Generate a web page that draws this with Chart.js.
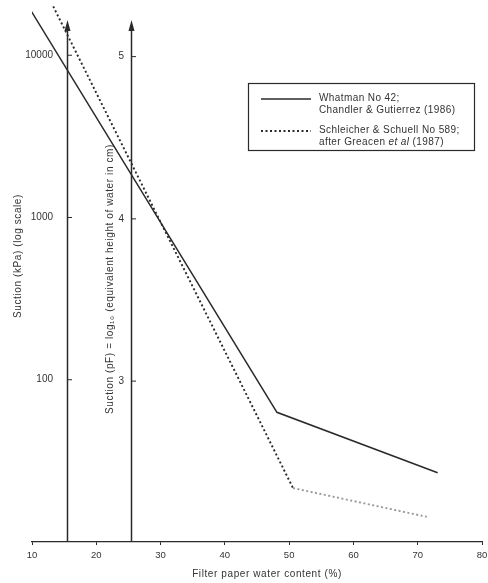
<!DOCTYPE html>
<html>
<head>
<meta charset="utf-8">
<script src="https://cdn.jsdelivr.net/npm/chart.js@4/dist/chart.umd.min.js"></script>
<style>
  html, body { margin: 0; padding: 0; background: #fff; }
  #wrap { width: 488px; height: 583px; }
</style>
</head>
<body>
<div id="wrap"><canvas id="paperChart" width="488" height="583"></canvas></div>
<script>
// filter paper calibration curves
const xTicks = [10, 20, 30, 40, 50, 60, 70, 80];
const kpaTicks = [100, 1000, 10000];
const pfTicks = [3, 4, 5];

const whatmanW = [9.5, 48.1, 73.1];
const whatmanS = [19800, 63, 26.7];

const s589W = [13.3, 50.6, 71.4];
const s589S = [20000, 21.5, 14.3];

const labels = [
    ['Whatman No 42;', 'Chandler & Gutierrez (1986)'],
    ['Schleicher & Schuell No 589;', 'after Greacen et al (1987)']
];

const FONT = '"Liberation Sans", Arial, sans-serif';
const INK = '#2a2a2a';
const TXT = '#333';

function pts(xs, ys) {
    return xs.map((x, i) => ({ x: x, y: ys[i] }));
}

// pF = log10(cm of water), 1 kPa = 10.197 cm
function pfToKpa(pf) {
    return Math.pow(10, pf) / 10.197;
}

const axesPlugin = {
    id: 'axesPlugin',
    afterDraw(chart) {
        const ctx = chart.ctx;
        const xs = chart.scales.x;
        const ys = chart.scales.y;
        const area = chart.chartArea;
        const bottom = area.bottom;
        const tipY = area.top + 15;

        ctx.save();
        ctx.strokeStyle = INK;
        ctx.fillStyle = INK;

        // two vertical axes with arrows
        [15, 25].forEach(v => {
            const px = Math.round(xs.getPixelForValue(v)) + 3.5;
            ctx.lineWidth = 1.5;
            ctx.beginPath();
            ctx.moveTo(px, bottom);
            ctx.lineTo(px, tipY + 8);
            ctx.stroke();
            ctx.beginPath();
            ctx.moveTo(px, tipY);
            ctx.lineTo(px - 3, tipY + 11);
            ctx.lineTo(px + 3, tipY + 11);
            ctx.closePath();
            ctx.fill();
        });

        ctx.fillStyle = TXT;
        ctx.font = '10px ' + FONT;
        ctx.textBaseline = 'middle';
        ctx.lineWidth = 1;

        // kPa axis ticks
        const ax1 = Math.round(xs.getPixelForValue(15)) + 4;
        kpaTicks.forEach(t => {
            const py = ys.getPixelForValue(t);
            ctx.beginPath();
            ctx.moveTo(ax1, py);
            ctx.lineTo(ax1 + 4, py);
            ctx.stroke();
            ctx.textAlign = 'right';
            ctx.fillText(String(t), ax1 - 15, py);
        });

        // pF axis ticks
        const ax2 = Math.round(xs.getPixelForValue(25)) + 4;
        pfTicks.forEach(t => {
            const py = ys.getPixelForValue(pfToKpa(t));
            ctx.beginPath();
            ctx.moveTo(ax2, py);
            ctx.lineTo(ax2 + 4, py);
            ctx.stroke();
            ctx.textAlign = 'right';
            ctx.fillText(String(t), ax2 - 8, py);
        });

        // axis titles
        ctx.letterSpacing = '0.6px';
        ctx.textAlign = 'center';
        ctx.save();
        ctx.translate(18, 256);
        ctx.rotate(-Math.PI / 2);
        ctx.fillText('Suction (kPa) (log scale)', 0, 0);
        ctx.restore();

        ctx.save();
        ctx.translate(110, 279);
        ctx.rotate(-Math.PI / 2);
        ctx.fillText('Suction (pF) = log\u2081\u2080 (equivalent height of water in cm)', 0, 0);
        ctx.restore();

        ctx.fillText('Filter paper water content (%)', 267, 574);

        // legend box
        const bx = area.right - 234, by = area.top + 78, bw = 226, bh = 67;
        ctx.lineWidth = 1.2;
        ctx.strokeRect(bx + 0.5, by + 0.5, bw, bh);

        ctx.letterSpacing = '0.4px';
        ctx.textAlign = 'left';
        chart.data.datasets.forEach((ds, i) => {
            const ly = by + 15 + i * 32;
            ctx.save();
            ctx.lineWidth = ds.borderWidth;
            ctx.setLineDash(ds.borderDash || []);
            ctx.beginPath();
            ctx.moveTo(bx + 13, ly + 1);
            ctx.lineTo(bx + 63, ly + 1);
            ctx.stroke();
            ctx.restore();
            const lines = labels[i];
            const tx = bx + 71;
            ctx.fillText(lines[0], tx, ly);
            if (lines[1].indexOf('et al') >= 0) {
                const parts = lines[1].split('et al');
                let cx = tx;
                ctx.fillText(parts[0], cx, ly + 12);
                cx += ctx.measureText(parts[0]).width;
                ctx.font = 'italic 10px ' + FONT;
                ctx.fillText('et al', cx, ly + 12);
                cx += ctx.measureText('et al').width;
                ctx.font = '10px ' + FONT;
                ctx.fillText(parts[1], cx, ly + 12);
            } else {
                ctx.fillText(lines[1], tx, ly + 12);
            }
        });

        ctx.letterSpacing = '0px';
        ctx.restore();
    }
};

new Chart(document.getElementById('paperChart').getContext('2d'), {
    type: 'line',
    data: {
        datasets: [{
            label: labels[0].join(' '),
            data: pts(whatmanW, whatmanS),
            borderColor: INK,
            borderWidth: 1.5,
            pointRadius: 0,
            tension: 0
        }, {
            label: labels[1].join(' '),
            data: pts(s589W, s589S),
            borderColor: INK,
            borderWidth: 1.9,
            borderDash: [2, 2.5],
            pointRadius: 0,
            tension: 0,
            segment: {
                borderColor: c => c.p0DataIndex === 1 ? '#9a9a9a' : INK
            }
        }]
    },
    options: {
        responsive: false,
        animation: false,
        layout: { padding: { left: 32, right: 6, top: 5, bottom: 0 } },
        scales: {
            x: {
                type: 'linear',
                min: 10,
                max: 80,
                afterBuildTicks: s => { s.ticks = xTicks.map(v => ({ value: v })); },
                afterFit: s => { s.height = 41; s.paddingLeft = 0; s.paddingRight = 0; },
                ticks: { color: TXT, font: { family: FONT, size: 9.5 }, padding: 5 },
                grid: { display: true, drawOnChartArea: false, drawTicks: true, tickLength: 3, color: INK },
                border: { display: true, color: INK, width: 1.2 },
                title: { display: false }
            },
            y: {
                type: 'logarithmic',
                min: 10,
                max: 20400,
                display: false
            }
        },
        plugins: { legend: { display: false }, tooltip: { enabled: false } }
    },
    plugins: [axesPlugin]
});
</script>
</body>
</html>
